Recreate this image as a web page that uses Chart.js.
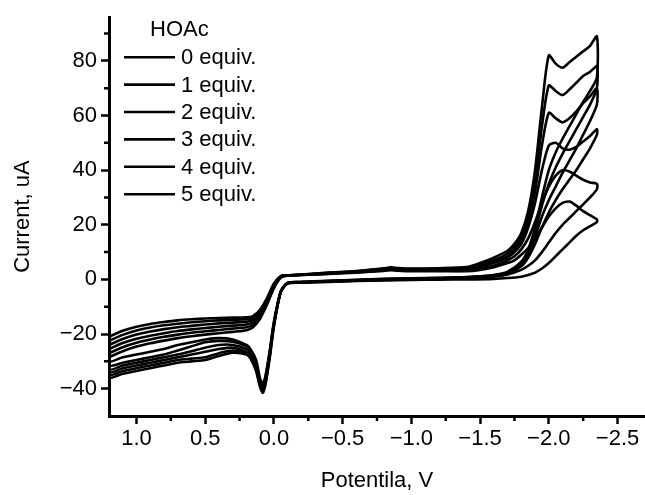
<!DOCTYPE html>
<html>
<head>
<meta charset="utf-8">
<title>CV HOAc</title>
<script src="https://cdn.jsdelivr.net/npm/chart.js@4.4.1/dist/chart.umd.min.js"></script>
<style>
  html, body { margin: 0; padding: 0; background: #fff; }
  #wrap { width: 645px; height: 495px; }
</style>
</head>
<body>
<div id="wrap"><canvas id="cvChart" width="645" height="495"></canvas></div>
<script>
// potentials (V) of the forward (negative-going) and reverse scans
const potentialFwd = [1.2, 1.1, 1.0, 0.9, 0.8, 0.7, 0.6, 0.5, 0.4, 0.3, 0.2, 0.15, 0.1, 0.05, 0.0, -0.05, -0.1, -0.2,
    -0.4, -0.6, -0.8, -0.85, -0.9, -1.0, -1.2,
    -1.4, -1.5, -1.6, -1.7, -1.75, -1.8, -1.85, -1.9, -1.95, -2.0, -2.05, -2.1, -2.15, -2.2, -2.25, -2.3, -2.35];
const potentialRev = [-2.35, -2.3, -2.25, -2.2, -2.15, -2.1, -2.05, -2.0, -1.95, -1.9, -1.85, -1.8,
    -1.7, -1.6, -1.4, -1.2, -1.0, -0.8, -0.6, -0.4, -0.2, -0.1,
    -0.05, 0.0, 0.03, 0.06, 0.08, 0.1, 0.13, 0.17, 0.2,
    0.3, 0.4, 0.5, 0.6, 0.7, 0.8, 0.9, 1.0, 1.1, 1.2];

const seriesLabels = ['0 equiv.', '1 equiv.', '2 equiv.', '3 equiv.', '4 equiv.', '5 equiv.'];
const legendTitle = 'HOAc';

// currents (uA), forward scans
const fwd0 = [-21, -18.8, -17.3, -16.3, -15.6, -15.0, -14.6, -14.3, -14.1, -14.0, -13.9, -13.3, -11.0, -6.8, -1.5, 1.2, 1.5, 1.6,
    2.0, 2.5, 3.1, 3.4, 3.2, 3.0, 3.0,
    3.0, 3.5, 4.5, 6, 7, 9, 11.5, 15, 19, 23, 26, 28, 28.5, 27, 25, 23.5, 22];
const fwd1 = [-22.5, -20.3, -18.7, -17.6, -16.8, -16.2, -15.7, -15.3, -15.0, -14.8, -14.6, -13.9, -11.5, -7.2, -1.9, 1.1, 1.5, 1.6,
    2.1, 2.6, 3.3, 3.6, 3.4, 3.2, 3.2,
    3.2, 4, 5, 7, 8.5, 11, 15, 21, 28, 34, 38, 40, 39.5, 38, 36.5, 35.5, 35];
const fwd2 = [-24, -21.8, -20.2, -19.1, -18.2, -17.5, -17.0, -16.5, -16.1, -15.8, -15.5, -14.7, -12.2, -7.7, -2.2, 1.0, 1.5, 1.7,
    2.2, 2.7, 3.5, 3.8, 3.6, 3.4, 3.4,
    3.5, 4.5, 6, 8, 10, 13, 19, 28, 40, 49, 50, 48, 47.5, 48.5, 50.5, 52.5, 55];
const fwd3 = [-25.5, -23.3, -21.7, -20.6, -19.7, -18.9, -18.3, -17.8, -17.3, -16.9, -16.5, -15.6, -12.9, -8.2, -2.5, 0.9, 1.5, 1.7,
    2.3, 2.9, 3.7, 4.0, 3.8, 3.6, 3.6,
    3.8, 5, 6.5, 8.5, 11, 14.5, 21, 32, 49, 61, 59, 57.5, 59, 61.5, 64.5, 67, 70];
const fwd4 = [-27, -24.8, -23.2, -22.0, -21.0, -20.2, -19.5, -19.0, -18.5, -18.0, -17.5, -16.5, -13.6, -8.7, -2.9, 0.8, 1.4, 1.7,
    2.4, 3.0, 3.9, 4.2, 4.0, 3.8, 3.9,
    4, 5.5, 7, 9.5, 12, 16, 23, 36, 56, 71, 69, 67.5, 69.5, 72, 74.5, 76, 78];
const fwd5 = [-28.5, -26.3, -24.6, -23.4, -22.4, -21.5, -20.8, -20.2, -19.7, -19.2, -18.6, -17.4, -14.3, -9.2, -3.2, 0.7, 1.4, 1.8,
    2.5, 3.1, 4.1, 4.4, 4.2, 4.0, 4.1,
    4.5, 6, 8, 10.5, 13, 17, 25, 40, 63, 82, 79, 77.5, 79.5, 81.5, 83.5, 85.5, 89];

// currents (uA), reverse scans
const rev0 = [21, 19.5, 18, 16, 13.5, 11, 8.5, 6, 4, 2.5, 1.6, 1.0,
    0.5, 0.2, 0, -0.1, -0.2, -0.4, -0.6, -0.9, -1.2, -1.5,
    -4.5, -15.5, -26, -35, -38, -36.5, -29.5, -25.5, -24,
    -22, -21.5, -22, -23, -24, -25.5, -26.5, -27.5, -28.5, -30];
const rev1 = [33, 30, 27.5, 25, 22.5, 20, 17, 13.5, 10, 7, 5, 3.5,
    1.8, 1.0, 0.5, 0.2, 0, -0.2, -0.5, -0.8, -1.1, -1.4,
    -4.5, -16, -26.5, -35.5, -39, -37.5, -30.5, -26, -24.5,
    -22.8, -22.5, -23, -24.5, -26, -27.5, -28.5, -29.5, -30.5, -31.5];
const rev2 = [53, 48, 44, 40, 36.5, 33, 29, 24.5, 19, 13, 8, 4.8,
    2.1, 1.2, 0.6, 0.3, 0.1, -0.1, -0.4, -0.7, -1.1, -1.3,
    -4.5, -16.5, -27, -36.5, -40, -38.5, -31.5, -27, -25.5,
    -24, -24, -25, -26.3, -27.5, -28.5, -29.5, -30.5, -31.5, -33];
const rev3 = [64, 58, 53, 48, 43.5, 39, 34, 29, 23, 15.5, 9, 5.5,
    2.3, 1.3, 0.7, 0.4, 0.2, 0, -0.3, -0.6, -1.0, -1.3,
    -4.5, -16.5, -27.5, -37, -40.5, -39, -32.5, -28, -26.5,
    -25, -25.5, -26.5, -27.5, -28.5, -29.5, -30.5, -31.5, -32.5, -34];
const rev4 = [70, 64, 59.5, 55, 50.5, 46, 41, 35, 27, 17.5, 10, 6,
    2.6, 1.5, 0.8, 0.5, 0.3, 0.1, -0.2, -0.6, -1.0, -1.3,
    -4.5, -17, -28, -37.5, -41, -39, -33, -28.5, -27,
    -26, -27, -28.5, -29, -29.5, -30.5, -31.5, -32.5, -33.5, -35];
const rev5 = [74, 69, 65, 60.5, 56, 51.5, 46.5, 40, 30, 19, 11, 6.5,
    2.8, 1.6, 0.9, 0.6, 0.4, 0.2, -0.1, -0.5, -0.9, -1.3,
    -4.5, -17, -28.5, -38, -41.5, -39.5, -33.5, -29, -27.5,
    -26.8, -28, -29.5, -30, -30.5, -31.5, -32.5, -33.5, -34.5, -36];

const fwdSets = [fwd0, fwd1, fwd2, fwd3, fwd4, fwd5];
const revSets = [rev0, rev1, rev2, rev3, rev4, rev5];

const FONT = '"Liberation Sans", Arial, sans-serif';
Chart.defaults.font.family = FONT;
Chart.defaults.font.size = 22;
Chart.defaults.color = '#000';

function fmt(v, digits) {
    if (Math.abs(v) < 1e-9) return (0).toFixed(digits);
    const s = Math.abs(v).toFixed(digits);
    return v < 0 ? '\u2212' + s : s;
}

// one closed loop per acid amount
const datasets = seriesLabels.map((label, i) => {
    const pts = potentialFwd.map((v, j) => ({ x: v, y: fwdSets[i][j] }))
        .concat(potentialRev.map((v, j) => ({ x: v, y: revSets[i][j] })));
    pts.push(pts[0]);
    return {
        label: label,
        data: pts,
        borderColor: '#000',
        backgroundColor: '#000',
        borderWidth: 2.6,
        pointRadius: 0,
        fill: false,
        tension: 0.25
    };
});

// small ticks between the labelled ones
const minorTicks = {
    id: 'minorTicks',
    afterDraw(chart) {
        const { ctx, chartArea, scales } = chart;
        ctx.save();
        ctx.strokeStyle = '#000';
        ctx.lineWidth = 2.5;
        ctx.beginPath();
        scales.x.ticks.forEach(t => {
            const px = scales.x.getPixelForValue(t.value + 0.25);
            if (px > chartArea.left + 3 && px < chartArea.right - 1) {
                ctx.moveTo(px, chartArea.bottom);
                ctx.lineTo(px, chartArea.bottom + 5);
            }
        });
        scales.y.ticks.forEach(t => {
            const py = scales.y.getPixelForValue(t.value + 10);
            if (py > chartArea.top && py < chartArea.bottom - 3) {
                ctx.moveTo(chartArea.left, py);
                ctx.lineTo(chartArea.left - 5, py);
            }
        });
        ctx.stroke();
        ctx.restore();
    }
};

// legend in the upper left corner of the plot
const cornerLegend = {
    id: 'cornerLegend',
    afterDraw(chart) {
        const { ctx, chartArea } = chart;
        const x0 = chartArea.left + 15;
        ctx.save();
        ctx.font = '22px ' + FONT;
        ctx.fillStyle = '#000';
        ctx.textBaseline = 'middle';
        ctx.fillText(legendTitle, chartArea.left + 41, chartArea.top + 13);
        chart.data.datasets.forEach((ds, i) => {
            const y = chartArea.top + 40 + i * 27.4;
            ctx.beginPath();
            ctx.moveTo(x0, y);
            ctx.lineTo(x0 + 51, y);
            ctx.strokeStyle = ds.borderColor;
            ctx.lineWidth = 2.6;
            ctx.stroke();
            ctx.fillText(ds.label, x0 + 57, y + 1);
        });
        ctx.restore();
    }
};

const ctx = document.getElementById('cvChart').getContext('2d');
const chart = new Chart(ctx, {
    type: 'line',
    data: { datasets: datasets },
    plugins: [minorTicks, cornerLegend],
    options: {
        responsive: false,
        animation: false,
        layout: { padding: { top: 17, right: 0, left: 0, bottom: 0 } },
        plugins: {
            legend: { display: false },
            tooltip: { enabled: false }
        },
        scales: {
            x: {
                type: 'linear',
                reverse: true,
                min: -2.7,
                max: 1.2,
                afterFit(scale) { scale.height = 79; },
                border: { display: true, color: '#000', width: 3 },
                grid: { drawOnChartArea: false, tickLength: 8, tickWidth: 2.5, tickColor: '#000' },
                ticks: {
                    stepSize: 0.5,
                    includeBounds: false,
                    maxRotation: 0,
                    autoSkip: false,
                    padding: 2,
                    callback: v => fmt(v, 1)
                },
                title: { display: true, text: 'Potentila, V', font: { size: 22 }, padding: { top: 0, bottom: 1 } }
            },
            y: {
                type: 'linear',
                min: -50,
                max: 96,
                afterFit(scale) { scale.width = 109; },
                border: { display: true, color: '#000', width: 3 },
                grid: { drawOnChartArea: false, tickLength: 8, tickWidth: 2.5, tickColor: '#000' },
                ticks: {
                    stepSize: 20,
                    includeBounds: false,
                    autoSkip: false,
                    padding: 4,
                    callback: v => fmt(v, 0)
                },
                title: { display: true, text: 'Current, uA', font: { size: 22 }, padding: { top: 10, bottom: 0 } }
            }
        }
    }
});
</script>
</body>
</html>
